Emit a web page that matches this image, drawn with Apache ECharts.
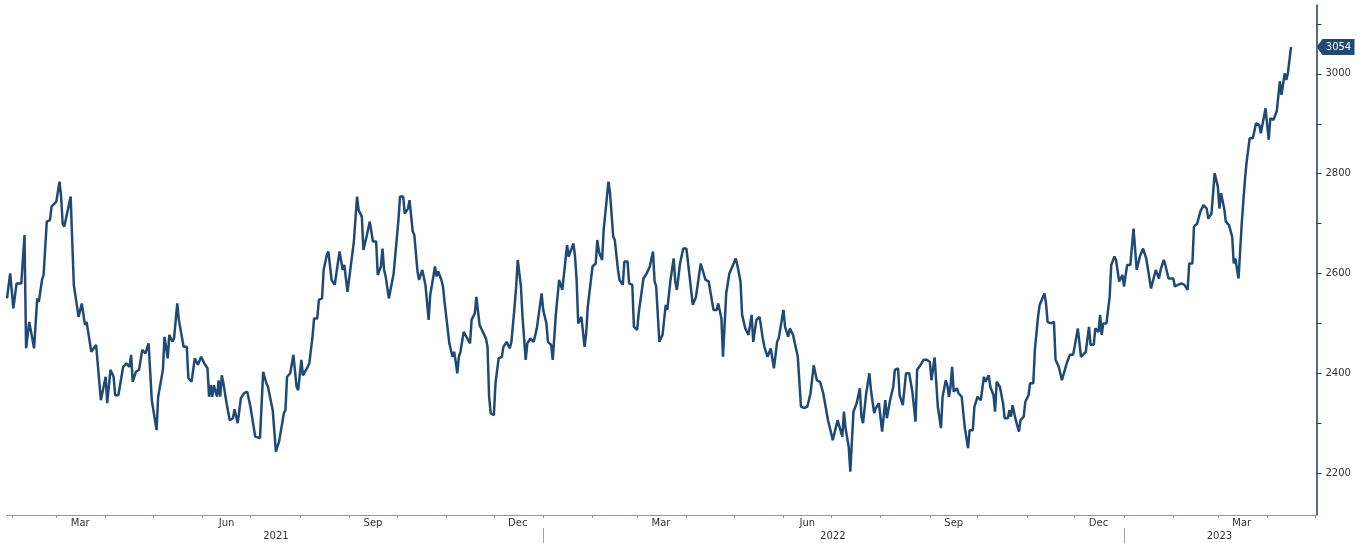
<!DOCTYPE html>
<html>
<head>
<meta charset="utf-8">
<script src="https://cdn.jsdelivr.net/npm/echarts@6/dist/echarts.min.js"></script>
<style>
html,body{margin:0;padding:0;background:#fff;}
#chart{width:1365px;height:543px;}
</style>
</head>
<body>
<div id="chart"></div>
<script>
const dates = [
'2021-01-29','2021-01-31','2021-02-02','2021-02-03','2021-02-04','2021-02-07','2021-02-09','2021-02-10','2021-02-12','2021-02-15',
'2021-02-17','2021-02-18','2021-02-20','2021-02-21','2021-02-23','2021-02-25','2021-02-26','2021-03-01','2021-03-03','2021-03-04',
'2021-03-05','2021-03-06','2021-03-10','2021-03-12','2021-03-13','2021-03-15','2021-03-17','2021-03-19','2021-03-20','2021-03-23',
'2021-03-24','2021-03-26','2021-03-29','2021-03-30','2021-04-01','2021-04-02','2021-04-04','2021-04-06','2021-04-07','2021-04-09',
'2021-04-12','2021-04-14','2021-04-16','2021-04-17','2021-04-18','2021-04-20','2021-04-22','2021-04-24','2021-04-26','2021-04-28',
'2021-04-30','2021-05-03','2021-05-04','2021-05-07','2021-05-08','2021-05-10','2021-05-11','2021-05-13','2021-05-14','2021-05-16',
'2021-05-17','2021-05-20','2021-05-22','2021-05-23','2021-05-25','2021-05-27','2021-05-29','2021-05-31','2021-06-02','2021-06-04',
'2021-06-05','2021-06-06','2021-06-07','2021-06-08','2021-06-10','2021-06-11','2021-06-12','2021-06-13','2021-06-14','2021-06-16',
'2021-06-18','2021-06-20','2021-06-21','2021-06-23','2021-06-25','2021-06-27','2021-06-29','2021-07-01','2021-07-04','2021-07-07',
'2021-07-09','2021-07-11','2021-07-12','2021-07-15','2021-07-17','2021-07-19','2021-07-22','2021-07-23','2021-07-24','2021-07-26',
'2021-07-28','2021-07-30','2021-07-31','2021-08-02','2021-08-03','2021-08-06','2021-08-07','2021-08-09','2021-08-10','2021-08-12',
'2021-08-13','2021-08-15','2021-08-16','2021-08-18','2021-08-19','2021-08-21','2021-08-23','2021-08-24','2021-08-26','2021-08-28',
'2021-08-29','2021-08-31','2021-09-01','2021-09-04','2021-09-06','2021-09-07','2021-09-09','2021-09-10','2021-09-12','2021-09-14',
'2021-09-16','2021-09-18','2021-09-19','2021-09-21','2021-09-22','2021-09-23','2021-09-24','2021-09-26','2021-09-27','2021-09-29',
'2021-10-02','2021-10-03','2021-10-05','2021-10-06','2021-10-08','2021-10-09','2021-10-11','2021-10-12','2021-10-14','2021-10-15',
'2021-10-17','2021-10-18','2021-10-19','2021-10-21','2021-10-22','2021-10-25','2021-10-26','2021-10-27','2021-10-29','2021-10-30',
'2021-10-31','2021-11-01','2021-11-03','2021-11-05','2021-11-06','2021-11-07','2021-11-08','2021-11-09','2021-11-10','2021-11-12',
'2021-11-13','2021-11-16','2021-11-17','2021-11-19','2021-11-20','2021-11-22','2021-11-23','2021-11-26','2021-11-27','2021-11-28',
'2021-11-29','2021-12-01','2021-12-02','2021-12-04','2021-12-06','2021-12-07','2021-12-09','2021-12-11','2021-12-12','2021-12-14',
'2021-12-15','2021-12-16','2021-12-18','2021-12-19','2021-12-21','2021-12-22','2021-12-24','2021-12-25','2021-12-26','2021-12-28',
'2021-12-31','2022-01-01','2022-01-03','2022-01-04','2022-01-06','2022-01-07','2022-01-09','2022-01-10','2022-01-11','2022-01-13',
'2022-01-15','2022-01-16','2022-01-17','2022-01-20','2022-01-21','2022-01-22','2022-01-23','2022-01-25','2022-01-27','2022-01-28',
'2022-01-29','2022-02-01','2022-02-03','2022-02-04','2022-02-05','2022-02-07','2022-02-08','2022-02-11','2022-02-12','2022-02-14',
'2022-02-15','2022-02-17','2022-02-18','2022-02-20','2022-02-21','2022-02-23','2022-02-24','2022-02-26','2022-02-27','2022-03-01',
'2022-03-02','2022-03-05','2022-03-07','2022-03-09','2022-03-11','2022-03-12','2022-03-13','2022-03-15','2022-03-17','2022-03-19',
'2022-03-20','2022-03-22','2022-03-24','2022-03-25','2022-03-26','2022-03-28','2022-03-30','2022-04-01','2022-04-03','2022-04-05',
'2022-04-07','2022-04-10','2022-04-11','2022-04-13','2022-04-15','2022-04-18','2022-04-20','2022-04-21','2022-04-23','2022-04-24',
'2022-04-26','2022-04-28','2022-04-29','2022-05-02','2022-05-03','2022-05-05','2022-05-06','2022-05-08','2022-05-10','2022-05-12',
'2022-05-13','2022-05-15','2022-05-17','2022-05-19','2022-05-20','2022-05-22','2022-05-24','2022-05-25','2022-05-26','2022-05-28',
'2022-05-29','2022-06-01','2022-06-02','2022-06-04','2022-06-05','2022-06-07','2022-06-10','2022-06-12','2022-06-14','2022-06-16',
'2022-06-18','2022-06-20','2022-06-22','2022-06-24','2022-06-26','2022-06-29','2022-07-02','2022-07-03','2022-07-05','2022-07-06',
'2022-07-08','2022-07-09','2022-07-10','2022-07-12','2022-07-13','2022-07-15','2022-07-17','2022-07-19','2022-07-20','2022-07-21',
'2022-07-23','2022-07-25','2022-07-26','2022-07-28','2022-07-29','2022-07-31','2022-08-02','2022-08-04','2022-08-05','2022-08-07',
'2022-08-09','2022-08-10','2022-08-12','2022-08-13','2022-08-14','2022-08-15','2022-08-17','2022-08-19','2022-08-21','2022-08-23',
'2022-08-24','2022-08-26','2022-08-28','2022-08-30','2022-09-01','2022-09-02','2022-09-04','2022-09-05','2022-09-06','2022-09-08',
'2022-09-09','2022-09-11','2022-09-12','2022-09-13','2022-09-14','2022-09-15','2022-09-16','2022-09-18','2022-09-19','2022-09-21',
'2022-09-23','2022-09-25','2022-09-26','2022-09-28','2022-09-29','2022-10-01','2022-10-03','2022-10-04','2022-10-05','2022-10-06',
'2022-10-08','2022-10-09','2022-10-11','2022-10-12','2022-10-13','2022-10-15','2022-10-17','2022-10-18','2022-10-20','2022-10-21',
'2022-10-22','2022-10-23','2022-10-25','2022-10-27','2022-10-28','2022-10-30','2022-10-31','2022-11-02','2022-11-03','2022-11-05',
'2022-11-06','2022-11-08','2022-11-09','2022-11-10','2022-11-12','2022-11-13','2022-11-14','2022-11-16','2022-11-18','2022-11-19',
'2022-11-21','2022-11-23','2022-11-24','2022-11-26','2022-11-28','2022-11-30','2022-12-01','2022-12-03','2022-12-05','2022-12-08',
'2022-12-10','2022-12-11','2022-12-13','2022-12-14','2022-12-16','2022-12-17','2022-12-18','2022-12-19','2022-12-21','2022-12-23',
'2022-12-24','2022-12-26','2022-12-27','2022-12-29','2022-12-31','2023-01-01','2023-01-03','2023-01-05','2023-01-07','2023-01-09',
'2023-01-11','2023-01-13','2023-01-15','2023-01-18','2023-01-19','2023-01-21','2023-01-23','2023-01-24','2023-01-26','2023-01-27',
'2023-01-29','2023-02-01','2023-02-02','2023-02-04','2023-02-06','2023-02-08','2023-02-10','2023-02-11','2023-02-13','2023-02-14',
'2023-02-16','2023-02-18','2023-02-20','2023-02-22','2023-02-23','2023-02-25','2023-02-27','2023-03-01','2023-03-02','2023-03-03',
'2023-03-05','2023-03-06','2023-03-08','2023-03-10','2023-03-11','2023-03-12','2023-03-14','2023-03-16','2023-03-18','2023-03-19',
'2023-03-21','2023-03-23','2023-03-25','2023-03-27','2023-03-28','2023-03-31','2023-04-01','2023-04-02','2023-04-03','2023-04-05',
'2023-04-07','2023-04-09','2023-04-10','2023-04-12','2023-04-13','2023-04-14','2023-04-16'
];
const values = [
2550,2600,2530,2533,2580,2580,2677,2450,2503,2450,
2550,2543,2587,2597,2704,2707,2734,2744,2784,2754,
2700,2694,2754,2577,2580,2513,2540,2497,2503,2443,
2440,2457,2346,2350,2393,2340,2407,2393,2356,2356,
2413,2420,2413,2437,2383,2403,2407,2447,2440,2460,
2346,2286,2353,2407,2473,2430,2477,2463,2470,2540,
2507,2453,2453,2390,2383,2430,2417,2433,2420,2410,
2353,2376,2353,2376,2353,2386,2353,2396,2380,2340,
2306,2310,2328,2300,2350,2360,2363,2333,2273,2270,
2403,2380,2373,2326,2243,2263,2320,2326,2393,2400,
2437,2373,2366,2427,2396,2413,2420,2473,2510,2510,
2547,2550,2607,2637,2644,2587,2577,2600,2644,2607,
2617,2563,2560,2664,2754,2727,2714,2647,2674,2704,
2664,2664,2597,2614,2650,2607,2594,2550,2553,2600,
2707,2754,2754,2720,2730,2747,2684,2677,2604,2587,
2607,2607,2577,2507,2557,2614,2594,2604,2587,2574,
2543,2547,2460,2433,2443,2423,2400,2433,2443,2483,
2480,2460,2507,2520,2553,2497,2497,2470,2453,2353,
2320,2316,2380,2430,2433,2453,2463,2450,2463,2533,
2574,2627,2574,2513,2427,2460,2470,2473,2463,2490,
2560,2527,2500,2463,2457,2427,2520,2523,2587,2567,
2627,2657,2634,2660,2634,2587,2500,2513,2453,2480,
2533,2614,2620,2667,2644,2627,2687,2784,2761,2674,
2667,2607,2587,2577,2624,2624,2580,2577,2493,2487,
2520,2590,2600,2614,2644,2584,2574,2463,2477,2537,
2527,2587,2630,2584,2567,2620,2650,2650,2594,2537,
2553,2620,2617,2587,2584,2527,2527,2540,2510,2433,
2560,2600,2604,2630,2617,2584,2517,2490,2477,2517,
2463,2507,2513,2470,2453,2433,2450,2447,2410,2463,
2470,2527,2493,2473,2490,2477,2433,2333,2330,2333,
2360,2416,2386,2383,2360,2306,2266,2266,2306,2303,
2273,2323,2290,2253,2203,2323,2340,2370,2313,2300,
2360,2400,2366,2320,2330,2340,2283,2346,2310,2346,
2373,2407,2410,2356,2360,2336,2400,2400,2363,2303,
2407,2416,2427,2427,2423,2386,2432,2383,2333,2290,
2353,2386,2376,2353,2373,2413,2363,2370,2360,2353,
2290,2250,2286,2286,2333,2353,2346,2370,2393,2383,
2396,2373,2356,2323,2383,2373,2340,2310,2310,2326,
2313,2336,2306,2283,2306,2313,2343,2356,2380,2380,
2447,2513,2537,2537,2560,2540,2503,2500,2503,2427,
2413,2386,2383,2420,2437,2437,2453,2490,2433,2443,
2493,2457,2457,2490,2483,2517,2477,2500,2500,2553,
2617,2634,2627,2584,2597,2574,2617,2617,2690,2607,
2634,2650,2630,2570,2570,2607,2590,2607,2627,2617,
2590,2590,2574,2577,2580,2577,2567,2620,2620,2694,
2700,2724,2737,2730,2710,2720,2801,2774,2730,2761,
2730,2704,2697,2674,2620,2630,2590,2700,2787,2821,
2871,2871,2901,2898,2881,2931,2898,2868,2911,2908,
2925,2985,2958,3001,2988,3001,3054
];
const axisStart = '2021-01-29';
const axisEnd = '2023-05-02';
const yMin = 2116, yMax = 3138;
const yLabelValues = [2200, 2400, 2600, 2800, 3000];
const yTickValues = [2200, 2300, 2400, 2500, 2600, 2700, 2800, 2900, 3000, 3100];
const monthTickDates = ['2021-02-01','2021-03-01','2021-04-01','2021-05-01','2021-06-01','2021-07-01','2021-08-01','2021-09-01','2021-10-01','2021-11-01','2021-12-01','2022-01-01','2022-02-01','2022-03-01','2022-04-01','2022-05-01','2022-06-01','2022-07-01','2022-08-01','2022-09-01','2022-10-01','2022-11-01','2022-12-01','2023-01-01','2023-02-01','2023-03-01','2023-04-01','2023-05-01'];
const monthLabelDates = ['2021-03-16','2021-06-16','2021-09-16','2021-12-16','2022-03-16','2022-06-16','2022-09-16','2022-12-16','2023-03-16'];
const monthNames = ['Jan','Feb','Mar','Apr','May','Jun','Jul','Aug','Sep','Oct','Nov','Dec'];
const yearSeparatorDates = ['2022-01-01','2023-01-01'];
const yearLabelDates = ['2021-07-17','2022-07-02','2023-03-02'];

function ts(s) {
  const p = s.split('-').map(Number);
  return Date.UTC(p[0], p[1] - 1, p[2]);
}
const lastValue = values[values.length - 1];
const seriesData = dates.map((d, i) => [ts(d), values[i]]);
const FONT = 'DejaVu Sans';

const chart = echarts.init(document.getElementById('chart'), null, {renderer: 'canvas'});
chart.setOption({
  animation: false,
  backgroundColor: '#ffffff',
  grid: {left: 7, right: 48.5, top: 5, bottom: 28, containLabel: false},
  xAxis: [{
    type: 'value',
    min: ts(axisStart), max: ts(axisEnd),
    position: 'bottom',
    axisLine: {show: true, onZero: false, lineStyle: {color: '#8796a8', width: 1.2}},
    axisTick: {show: true, length: 3, customValues: monthTickDates.map(ts), lineStyle: {color: '#8796a8'}},
    axisLabel: {
      customValues: monthLabelDates.map(ts),
      formatter: v => monthNames[new Date(v).getUTCMonth()],
      color: '#333', fontSize: 10, fontFamily: FONT, margin: 3
    },
    splitLine: {show: false}
  }, {
    type: 'value',
    min: ts(axisStart), max: ts(axisEnd),
    position: 'bottom',
    offset: 13,
    axisLine: {show: false, onZero: false},
    axisTick: {show: true, length: 16, customValues: yearSeparatorDates.map(ts), lineStyle: {color: '#9aa3ad'}},
    axisLabel: {
      customValues: yearLabelDates.map(ts),
      formatter: v => String(new Date(v).getUTCFullYear()),
      color: '#333', fontSize: 10, fontFamily: FONT, margin: 3
    },
    splitLine: {show: false}
  }],
  yAxis: {
    type: 'value',
    position: 'right',
    min: yMin, max: yMax,
    axisLine: {show: true, lineStyle: {color: '#1e3b5e', width: 1.5}},
    axisTick: {show: true, length: 5, customValues: yTickValues, lineStyle: {color: '#1e3b5e'}},
    axisLabel: {customValues: yLabelValues, formatter: v => String(v), color: '#333', fontSize: 10, fontFamily: FONT, margin: 9},
    splitLine: {show: false}
  },
  series: [{
    type: 'line',
    xAxisIndex: 0,
    data: seriesData,
    showSymbol: false,
    symbol: 'none',
    lineStyle: {color: '#1f4a75', width: 2.5},
    markPoint: {
      symbol: 'path://M0,8 L6,0 L38,0 L38,16 L6,16 Z',
      symbolSize: [38, 16],
      symbolOffset: [19, 0],
      silent: true,
      itemStyle: {color: '#1f4a75'},
      label: {show: true, color: '#fff', fontSize: 10, fontFamily: FONT, offset: [3, 0], formatter: '{c}'},
      data: [{coord: [ts(axisEnd), lastValue], value: lastValue}]
    }
  }]
});
</script>
</body>
</html>
